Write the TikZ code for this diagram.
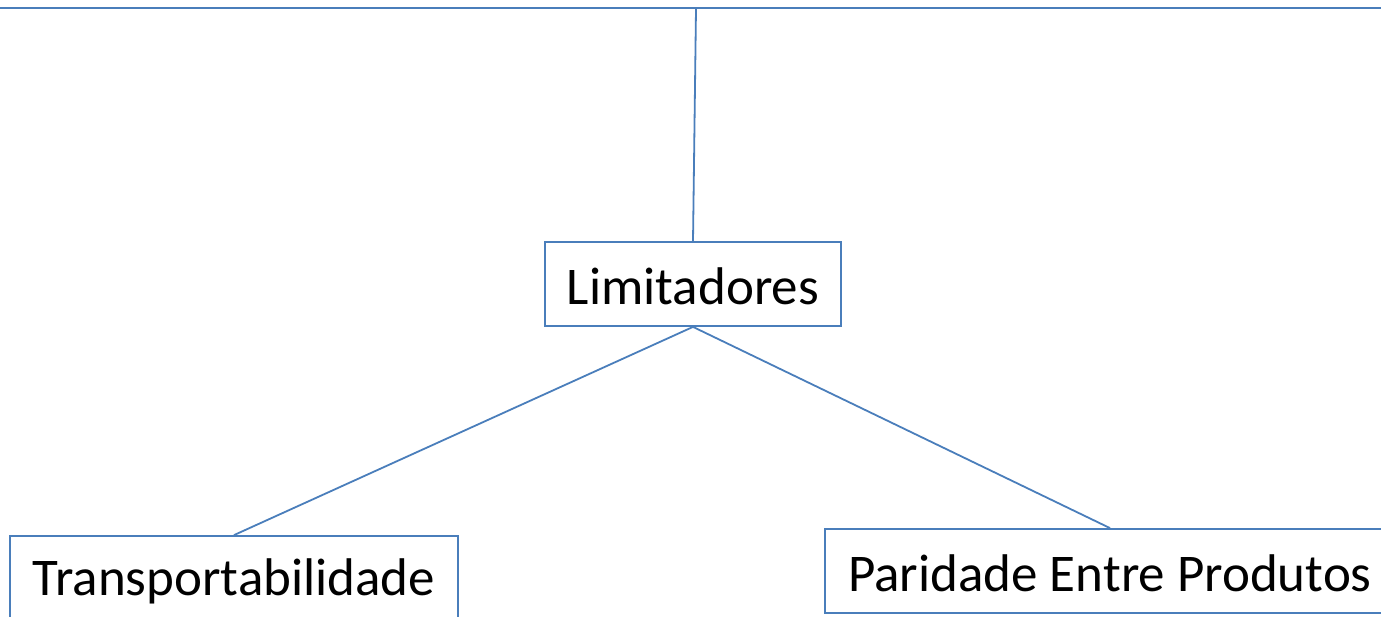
\documentclass[tikz,border=0pt]{standalone}
\usepackage{fontspec}
\setmainfont{Carlito}
\definecolor{boxblue}{HTML}{4A7EBB}
\tikzset{
  box/.style={draw=boxblue, line width=1.8pt, rectangle, inner sep=0pt, fill=white},
  lbl/.style={font=\fontsize{53}{62}\selectfont, text=black, inner sep=0pt},
  conn/.style={draw=boxblue, line width=1.8pt}
}
\begin{document}
\begin{tikzpicture}[x=1pt,y=-1pt]
\useasboundingbox (0,0) rectangle (1381,617);
\clip (0,0) rectangle (1381,617);
\node[box, minimum width=1420pt, minimum height=88pt] (top) at (696,-36) {};
\node[box, minimum width=296pt, minimum height=84pt] (lim) at (693,284) {};
\node[lbl] (limt) at (693,286) {Limitadores};
\node[box, minimum width=448pt, minimum height=84pt] (trans) at (234,578) {};
\node[lbl] (transt) at (234,581) {Transportabilidade};
\node[box, minimum width=570pt, minimum height=84pt] (par) at (1110,571) {};
\node[lbl] (part) at (1110,573) {Paridade Entre Produtos};
\draw[conn] (top.south) -- (lim.north);
\draw[conn] (lim.south) -- (trans.north);
\draw[conn] (lim.south) -- (par.north);
\end{tikzpicture}
\end{document}
